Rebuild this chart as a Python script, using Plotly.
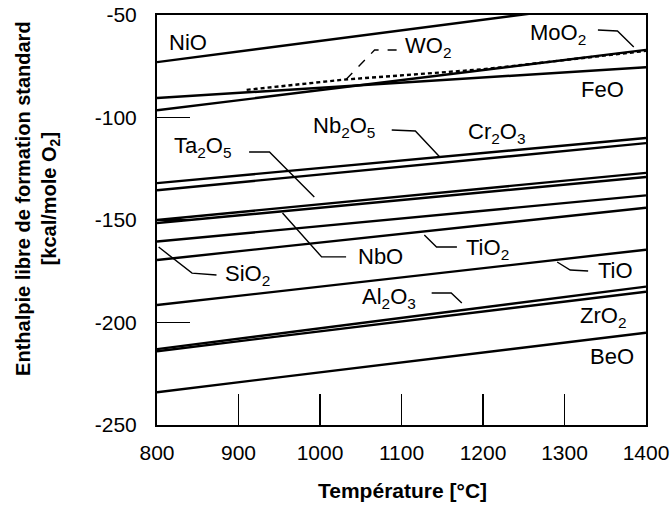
import plotly.graph_objects as go

# ---------------- data ----------------
T = [800, 1400]
NiO = [-73, -42]
FeO = [-90.5, -75.5]
MoO2 = [-96.5, -67]
WO2_T = [910, 1030, 1200, 1400]
WO2 = [-86.5, -81.5, -76.5, -67.5]
Nb2O5 = [-132, -110]
Cr2O3 = [-135.5, -112.5]
Ta2O5 = [-150, -127]
NbO = [-151.5, -129]
SiO2 = [-160.5, -138]
TiO2 = [-169.5, -144]
TiO = [-191.5, -164.5]
Al2O3 = [-213, -182.5]
ZrO2 = [-214, -185]
BeO = [-234, -205]

x_ticks = [800, 900, 1000, 1100, 1200, 1300, 1400]
y_ticks = [-250, -200, -150, -100, -50]
y_tick_text = ["-250", "-200", "-150", "-100", "-50"]

solid_series = [NiO, FeO, MoO2, Nb2O5, Cr2O3, Ta2O5, NbO, SiO2, TiO2, TiO,
                Al2O3, ZrO2, BeO]

# label text, position (T, value)
labels = [
    ("NiO", 838, -63.2),
    ("WO<sub>2</sub>", 1133, -65.6),
    ("MoO<sub>2</sub>", 1292, -59.3),
    ("FeO", 1347, -86.1),
    ("Nb<sub>2</sub>O<sub>5</sub>", 1029, -104.6),
    ("Cr<sub>2</sub>O<sub>3</sub>", 1216, -107.6),
    ("Ta<sub>2</sub>O<sub>5</sub>", 857, -114.4),
    ("NbO", 1074, -168.0),
    ("TiO<sub>2</sub>", 1206, -164.1),
    ("SiO<sub>2</sub>", 911, -176.8),
    ("TiO", 1363, -174.4),
    ("Al<sub>2</sub>O<sub>3</sub>", 1085, -188.0),
    ("ZrO<sub>2</sub>", 1347, -197.3),
    ("BeO", 1358, -216.8),
]

# leader polylines (T, value) points; dashed flag
leaders = [
    ([(1094, -67.1), (1067, -67.1), (1030, -82.2)], True),
    ([(1341, -57.3), (1365, -57.8), (1385, -65.6)], False),
    ([(1088, -106.1), (1117, -106.6), (1147, -119.3)], False),
    ([(913, -116.8), (938, -116.8), (993, -138.8)], False),
    ([(1032, -168.0), (1002, -168.0), (954, -146.6)], False),
    ([(1168, -163.2), (1143, -163.2), (1128, -157.3)], False),
    ([(873, -176.8), (843, -175.9), (802, -163.2)], False),
    ([(1329, -174.9), (1307, -174.4), (1291, -170.5)], False),
    ([(1137, -185.6), (1161, -185.6), (1174, -190.5)], False),
]

FONT = "Liberation Sans, Arial, Helvetica, sans-serif"

fig = go.Figure()
for s in solid_series:
    fig.add_trace(go.Scatter(x=T, y=s, mode="lines",
                             line=dict(color="black", width=2.4),
                             showlegend=False, hoverinfo="skip"))
fig.add_trace(go.Scatter(x=WO2_T, y=WO2, mode="lines",
                         line=dict(color="black", width=2.4, dash="4px,3px"),
                         showlegend=False, hoverinfo="skip"))

for text, x, y in labels:
    fig.add_annotation(x=x, y=y, text=text, showarrow=False,
                       font=dict(family=FONT, size=22, color="black"),
                       xanchor="center", yanchor="middle")

shapes = []
for pts, dashed in leaders:
    path = "M " + " L ".join(f"{px},{py}" for px, py in pts)
    shapes.append(dict(type="path", path=path, xref="x", yref="y",
                       line=dict(color="black", width=1.4,
                                 dash="dash" if dashed else "solid")))

fig.update_layout(
    width=671, height=507,
    margin=dict(l=157, r=25, t=15, b=82, pad=0, autoexpand=False),
    paper_bgcolor="white", plot_bgcolor="white",
    shapes=shapes,
    font=dict(family=FONT, color="black"),
)

fig.update_xaxes(range=[800, 1400], tickvals=x_ticks,
                 ticktext=[str(v) for v in x_ticks], automargin=False,
                 ticks="inside", ticklen=31, tickwidth=1.5, tickcolor="black",
                 showline=True, linewidth=2, linecolor="black", mirror=True,
                 showgrid=False, zeroline=False,
                 tickfont=dict(family=FONT, size=21, color="black"),
                 ticklabelstandoff=8)
fig.update_yaxes(range=[-250, -50], tickvals=y_ticks, ticktext=y_tick_text,
                 automargin=False,
                 ticks="inside", ticklen=33, tickwidth=1.5, tickcolor="black",
                 showline=True, linewidth=2, linecolor="black", mirror=True,
                 showgrid=False, zeroline=False,
                 tickfont=dict(family=FONT, size=21, color="black"),
                 ticklabelstandoff=14)

fig.add_annotation(xref="paper", yref="paper", x=0.503, y=-0.159,
                   text="<b>Température [°C]</b>", showarrow=False,
                   font=dict(family=FONT, size=21, color="black"),
                   xanchor="center", yanchor="middle")
fig.add_annotation(xref="paper", yref="paper", x=-0.245, y=0.552,
                   text="<b>Enthalpie libre de formation standard<br>[kcal/mole O<sub>2</sub>]</b>",
                   showarrow=False, textangle=-90,
                   font=dict(family=FONT, size=20, color="black"),
                   xanchor="center", yanchor="middle")

# remove the browser's default 8px page margin so the figure sits at (0, 0)
fig.write_html("out.html",
               config={"displayModeBar": False, "staticPlot": True},
               post_script="document.body.style.margin='0';"
                           "document.body.style.overflow='hidden';")
